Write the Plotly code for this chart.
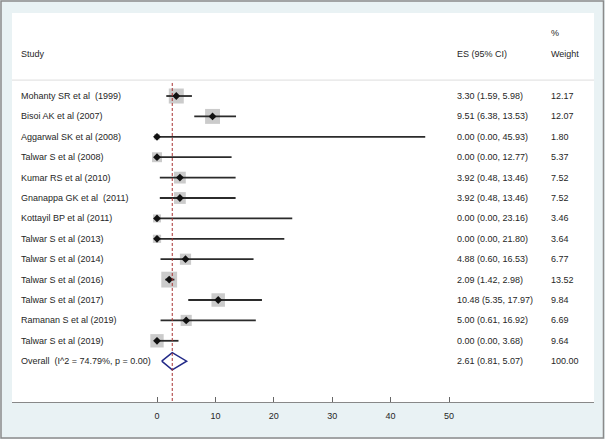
import plotly.graph_objects as go

studies = ["Mohanty SR et al  (1999)", "Bisoi AK et al (2007)", "Aggarwal SK et al (2008)",
           "Talwar S et al (2008)", "Kumar RS et al (2010)", "Gnanappa GK et al  (2011)",
           "Kottayil BP et al (2011)", "Talwar S et al (2013)", "Talwar S et al (2014)",
           "Talwar S et al (2016)", "Talwar S et al (2017)", "Ramanan S et al (2019)",
           "Talwar S et al (2019)"]
es = [3.30, 9.51, 0.00, 0.00, 3.92, 3.92, 0.00, 0.00, 4.88, 2.09, 10.48, 5.00, 0.00]
lo = [1.59, 6.38, 0.00, 0.00, 0.48, 0.48, 0.00, 0.00, 0.60, 1.42, 5.35, 0.61, 0.00]
hi = [5.98, 13.53, 45.93, 12.77, 13.46, 13.46, 23.16, 21.80, 16.53, 2.98, 17.97, 16.92, 3.68]
weight = [12.17, 12.07, 1.80, 5.37, 7.52, 7.52, 3.46, 3.64, 6.77, 13.52, 9.84, 6.69, 9.64]
overall_label = "Overall  (I^2 = 74.79%, p = 0.00)"
overall_es, overall_lo, overall_hi, overall_w = 2.61, 0.81, 5.07, 100.00
tick_vals = [0, 10, 20, 30, 40, 50]

FONT = "Liberation Sans, Arial, sans-serif"
FS = 9
TXT = "#262626"

n = len(studies)
rows = list(range(n))
overall_row = n

fig = go.Figure()

# squares
fig.add_trace(go.Scatter(
    x=es, y=rows, mode="markers",
    marker=dict(symbol="square", color="#b5b5b5",
                size=[15 * (w / 12.17) ** 0.5 for w in weight], line=dict(width=0)),
    hoverinfo="skip", showlegend=False))

# CI lines
cx, cy = [], []
for r, a, b in zip(rows, lo, hi):
    cx += [a, b, None]
    cy += [r, r, None]
fig.add_trace(go.Scatter(x=cx, y=cy, mode="lines", line=dict(color="#2b2b2b", width=1.8),
                         hoverinfo="skip", showlegend=False))

# point estimates
fig.add_trace(go.Scatter(x=es, y=rows, mode="markers",
                         marker=dict(symbol="diamond", color="#111111", size=6),
                         hoverinfo="skip", showlegend=False))

# overall diamond
fig.add_trace(go.Scatter(
    x=[overall_lo, overall_es, overall_hi, overall_es, overall_lo],
    y=[overall_row, overall_row - 0.42, overall_row, overall_row + 0.42, overall_row],
    mode="lines", fill="toself", fillcolor="white",
    line=dict(color="#232a88", width=1.5), hoverinfo="skip", showlegend=False))

# reference dashed line at overall estimate
fig.add_shape(type="line", xref="x", yref="y", x0=overall_es, x1=overall_es,
              y0=-0.64, y1=15.0, line=dict(color="#a83232", width=1, dash="3px,2px"))

# header separator
fig.add_shape(type="line", xref="paper", yref="y", x0=0, x1=1, y0=-0.78, y1=-0.78,
              line=dict(color="#e4e4e4", width=1.2))

# outer border
fig.add_shape(type="rect", xref="paper", yref="paper",
              x0=-0.0189, x1=1.0163, y0=-0.0925, y1=1.0308,
              line=dict(color="#8a8a8a", width=1.5), fillcolor="rgba(0,0,0,0)", layer="above")

X_STUDY, X_ES, X_W = 0.012, 0.7612, 0.9227

def ann(x, y, text):
    fig.add_annotation(x=x, y=y, xref="paper", yref="y", text=text, showarrow=False,
                       xanchor="left", yanchor="middle",
                       font=dict(family=FONT, size=FS, color=TXT))

ann(X_STUDY, -2.06, "Study")
ann(X_ES, -2.06, "ES (95% CI)")
ann(X_W, -3.09, "%")
ann(X_W, -2.06, "Weight")

for r, s, e, a, b, w in zip(rows, studies, es, lo, hi, weight):
    ann(X_STUDY, r, s)
    ann(X_ES, r, f"{e:.2f} ({a:.2f}, {b:.2f})")
    ann(X_W, r, f"{w:.2f}")

ann(X_STUDY, overall_row, overall_label)
ann(X_ES, overall_row, f"{overall_es:.2f} ({overall_lo:.2f}, {overall_hi:.2f})")
ann(X_W, overall_row, f"{overall_w:.2f}")

fig.update_layout(
    width=605, height=439,
    margin=dict(l=12, r=11, t=13, b=37),
    paper_bgcolor="#e9f2f4", plot_bgcolor="white",
    showlegend=False,
    xaxis=dict(range=[-24.83, 74.83], tickvals=tick_vals, ticks="inside", ticklen=5,
               tickcolor="#666666", showline=True, linecolor="#888888", linewidth=1.2,
               showgrid=False, zeroline=False, ticklabelstandoff=5,
               tickfont=dict(family=FONT, size=FS, color=TXT)),
    yaxis=dict(range=[15.0, -4.07], visible=False, showgrid=False, zeroline=False),
)

fig.write_html("out.html", config={"displayModeBar": False},
               post_script="document.body.style.margin='0';")
